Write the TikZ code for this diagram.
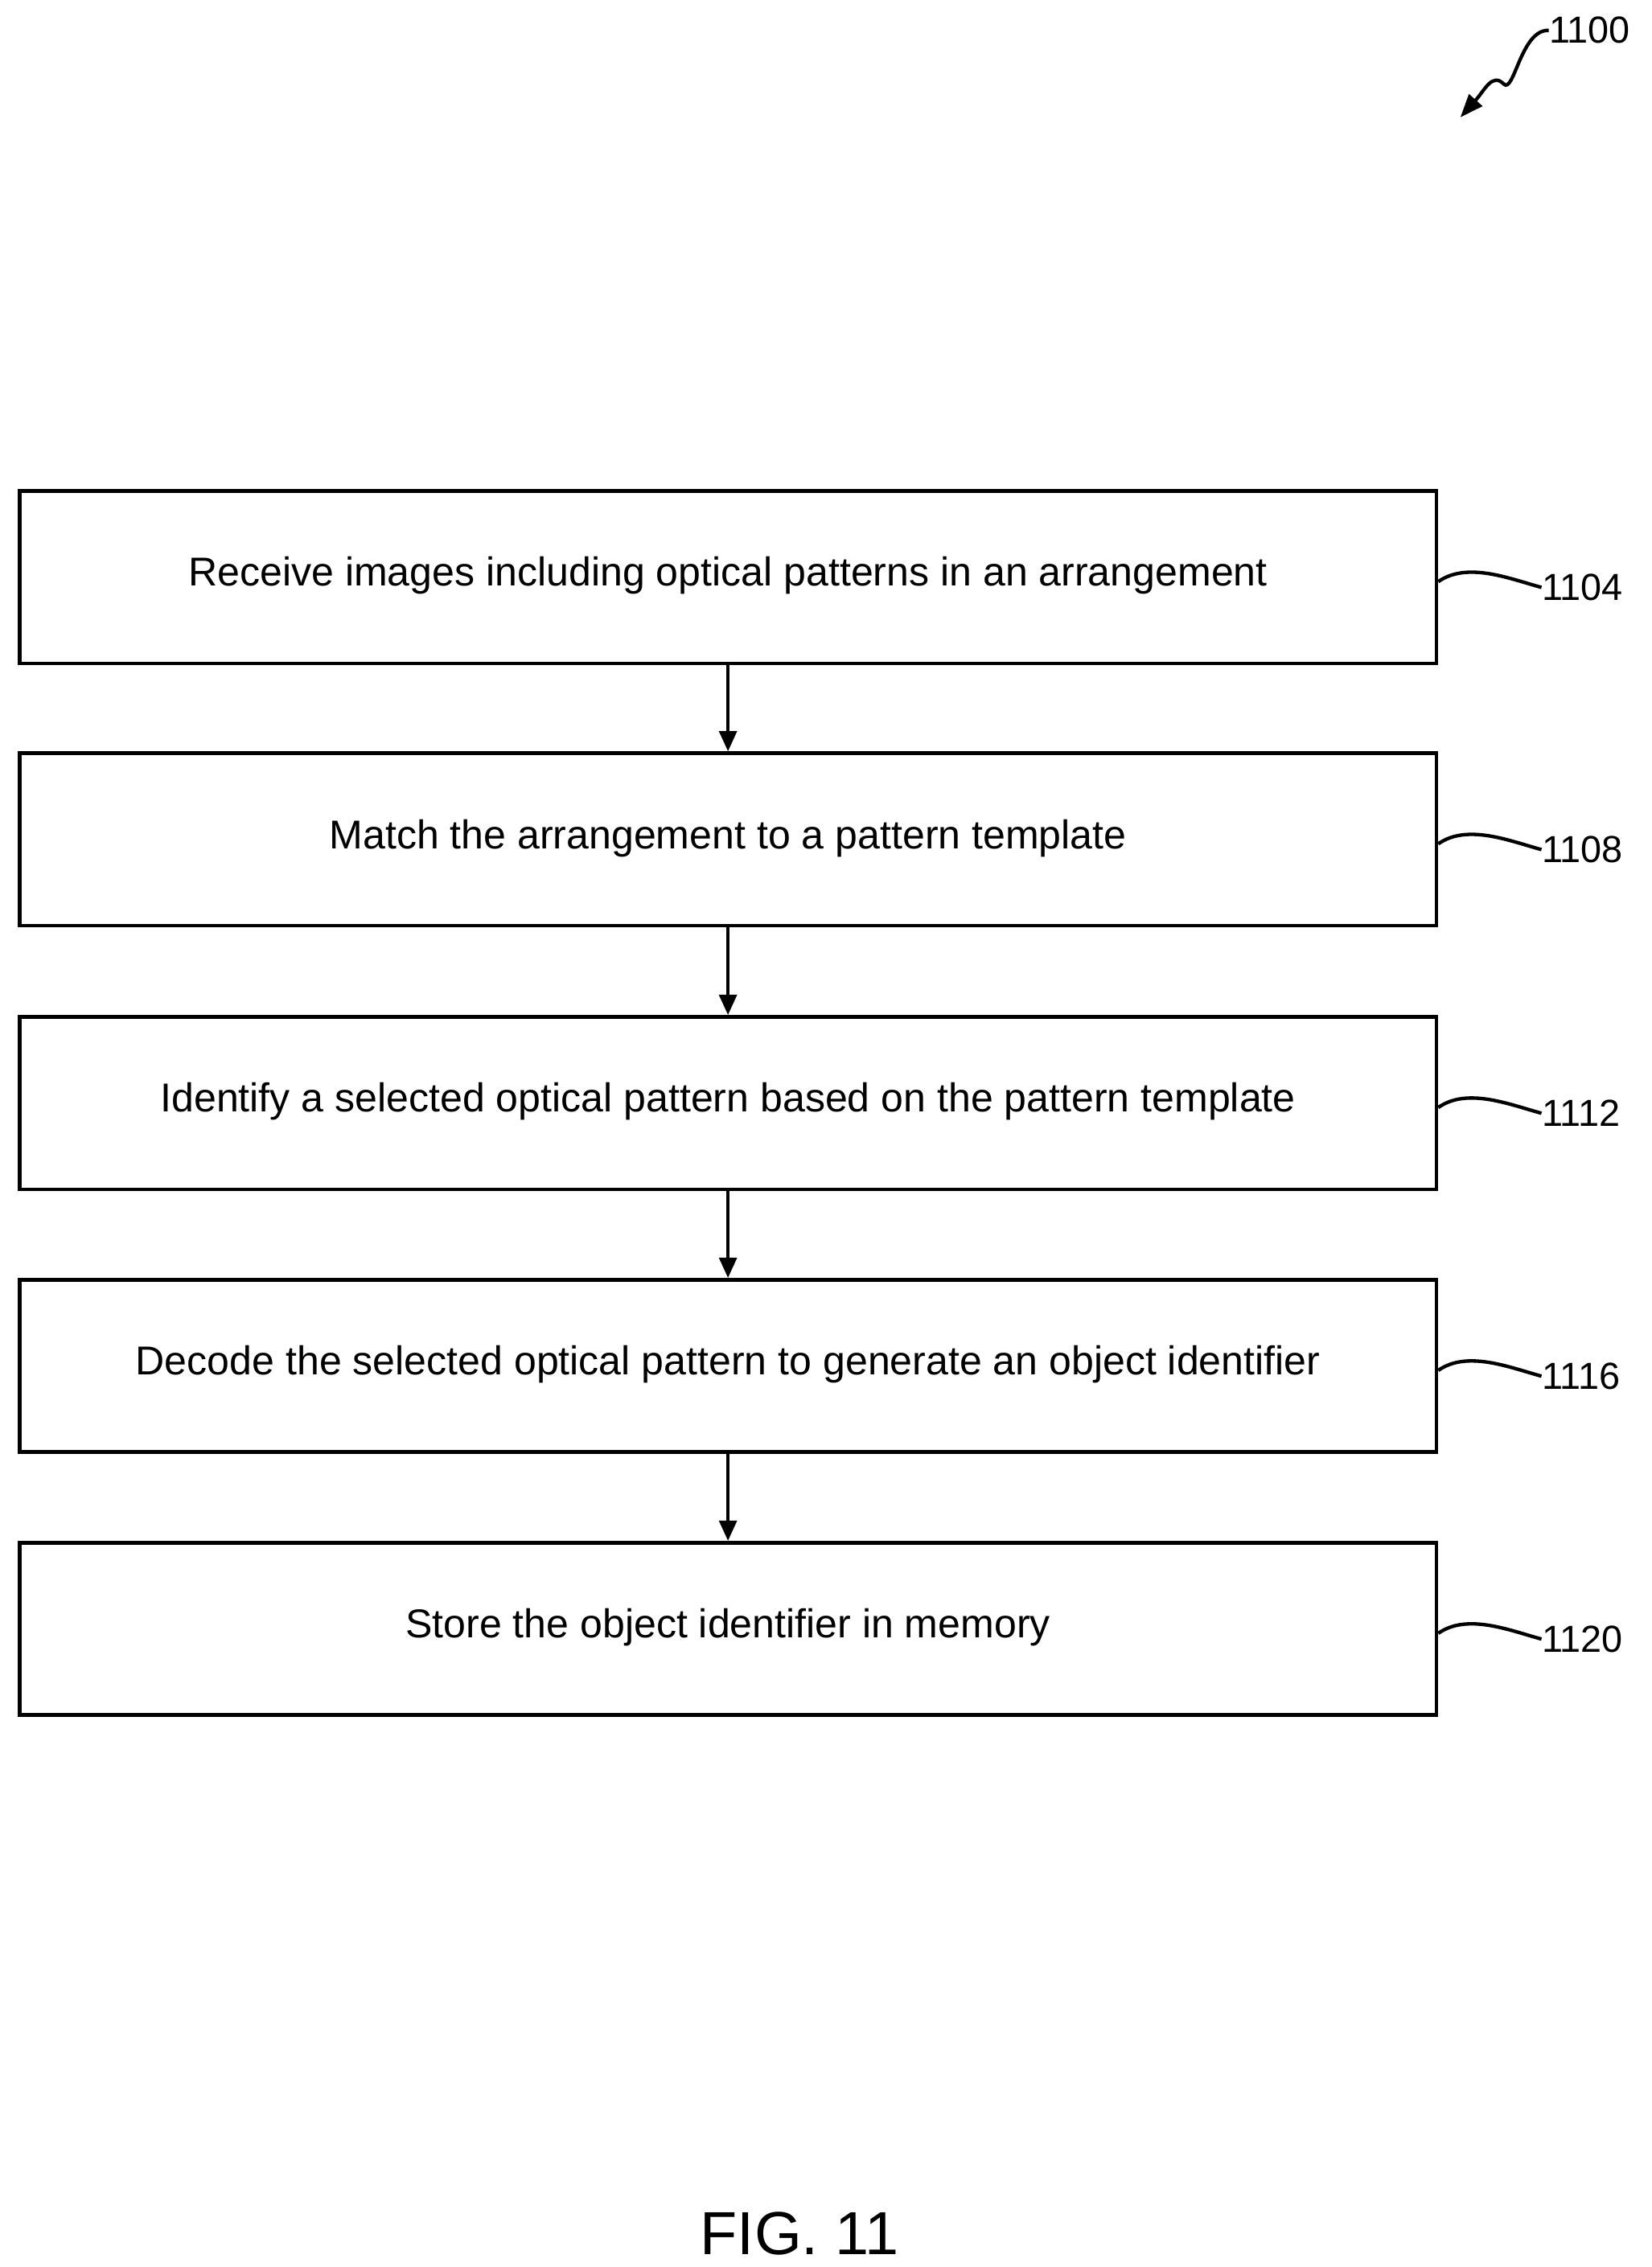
\documentclass[tikz,border=0pt]{standalone}
\usepackage{fontspec}
\setmainfont{Liberation Sans}
\usetikzlibrary{arrows.meta}
\begin{document}
\begin{tikzpicture}[x=0.5pt,y=-0.5pt,
  box/.style={draw,line width=1.3pt,minimum width=489pt,minimum height=59.5pt,inner sep=0pt},
  lab/.style={font=\fontsize{13}{15}\selectfont,anchor=west,inner sep=0pt},
  arr/.style={line width=1.2pt,-{Triangle[length=7pt,width=6pt]}},
  sq/.style={line width=1.2pt}]
\useasboundingbox (0,0) rectangle (1140,1565);
\foreach \n/\y/\t/\l in {a/398.5/Receive images including optical patterns in an arrangement/1104,
  b/579.5/Match the arrangement to a pattern template/1108,
  c/761.5/Identify a selected optical pattern based on the pattern template/1112,
  d/943/Decode the selected optical pattern to generate an object identifier/1116,
  e/1124.5/Store the object identifier in memory/1120}{
  \node[box] (\n) at (502.5,\y) {};
  \node[font=\fontsize{13.9}{16}\selectfont] (t\n) at (502.5,\y-1) {\t};
  \node[lab] (l\n) at (1064,\y+7) {\l};
  \draw[sq] (\n.east) ++(0,3) coordinate (s\n) .. controls +(20,-14) and +(-22,-6) .. (l\n.west);
}
\foreach \p/\q in {a/b,b/c,c/d,d/e}{\draw[arr] (\p.south) -- (\q.north);}
\node[lab] (fig) at (483,1542) {\fontsize{21}{24}\selectfont FIG. 11};
\node[lab] (n1100) at (1069,21) {1100};
\coordinate (tip) at (1008,81);
\draw[line width=1.2pt,-{Triangle[length=8pt,width=6pt]}] (n1100.west) .. controls (1050,20) and (1045,65) .. (1038,58) .. controls (1030,50) and (1025,62) .. (tip);
\end{tikzpicture}
\end{document}
